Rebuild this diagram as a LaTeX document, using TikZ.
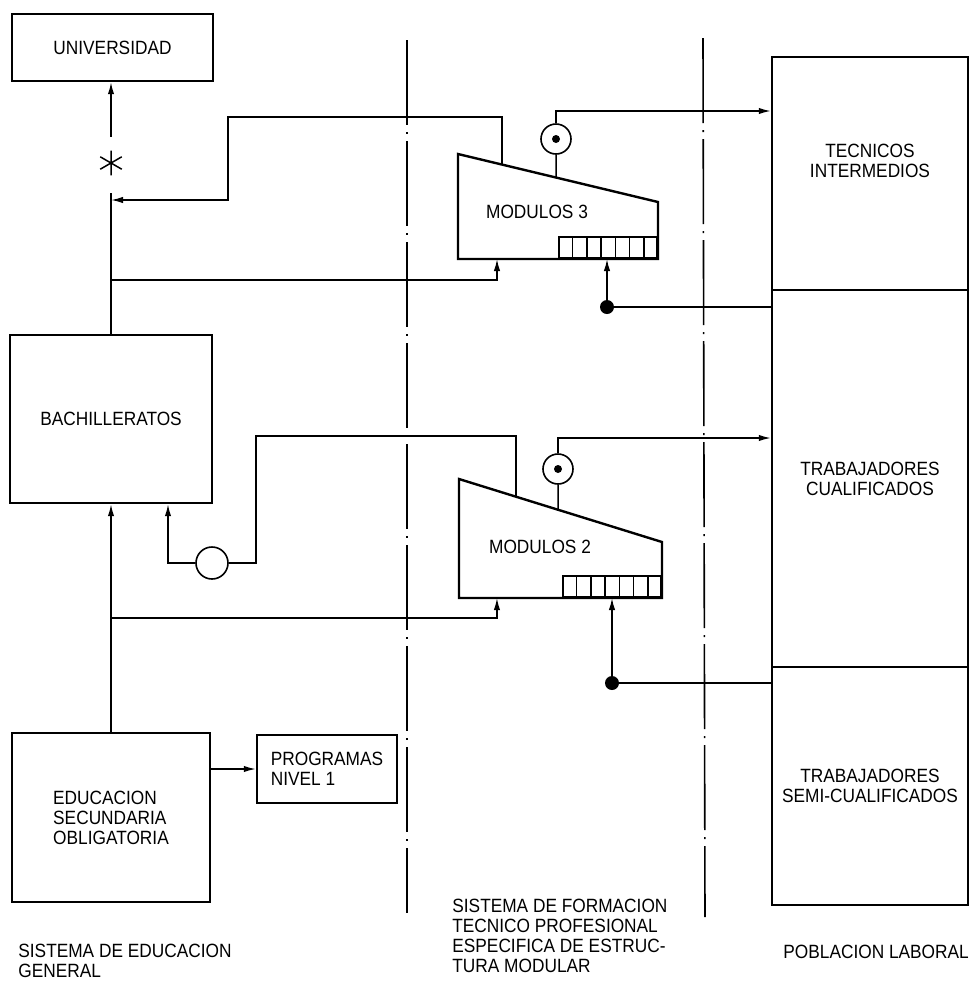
\documentclass[tikz,border=0pt]{standalone}
\usepackage{fontspec}
\setmainfont{Liberation Sans}[FakeStretch=0.9]
\usetikzlibrary{arrows.meta,calc}

\begin{document}
\begin{tikzpicture}[x=0.5pt, y=-0.5pt, every node/.style={font=\fontsize{9.6}{10}\selectfont},
  box/.style={draw, line width=1.2pt, inner sep=2pt, align=center},
  wire/.style={line width=0.75pt},
  arr/.style={wire, -{Latex[length=6pt,width=3.2pt]}},
  sep/.style={line width=0.8pt, dash pattern=on 42.5pt off 3.5pt on 1pt off 3.5pt},
  trap/.style={line width=1.2pt},
  strip/.style={draw, line width=0.8pt, minimum width=49pt, minimum height=10.5pt, inner sep=0pt, anchor=south east},
  ring/.style={draw, circle, line width=0.8pt, minimum size=15pt, inner sep=0pt},
  blob/.style={fill, circle, minimum size=7pt, inner sep=0pt},
  caption/.style={anchor=west, align=left, inner sep=0pt}]
\useasboundingbox (0,0) rectangle (971,982);
\draw[sep] (407,40) -- (407,913); \draw[sep] (703,38) -- (705,917);
\node[box, minimum width=100.5pt, minimum height=33.5pt] (uni) at (112.5,47.5) {UNIVERSIDAD};
\node[box, minimum width=101pt, minimum height=84pt] (bach) at (111,419) {BACHILLERATOS};
\node[box, minimum width=99pt, minimum height=84.5pt, align=left] (eso) at (111,817.5) {EDUCACION\\SECUNDARIA\\OBLIGATORIA};
\node[box, minimum width=70pt, minimum height=34pt, align=left] (prog) at (327,769) {PROGRAMAS\\NIVEL 1};
\node[box, minimum width=98pt, minimum height=116.5pt, label={[yshift=6.5pt, align=center]center:{TECNICOS\\INTERMEDIOS}}] (tec) at (870,173.5) {};
\node[box, minimum width=98pt, minimum height=188.5pt] (cual) at (870,478.5) {TRABAJADORES\\CUALIFICADOS};
\node[box, minimum width=98pt, minimum height=119pt] (semi) at (870,786) {TRABAJADORES\\SEMI-CUALIFICADOS};
\coordinate (m3a) at (458,154); \coordinate (m3b) at (658,202); \coordinate (m3c) at (658,259); \coordinate (m3d) at (458,259);
\draw[trap] (m3a) -- (m3b) -- (m3c) -- (m3d) -- cycle;
\node[strip] (s3) at (m3c) {};
\foreach \i in {1,...,6} \draw[wire] ($(s3.north west)!\i/7!(s3.north east)$) -- ($(s3.south west)!\i/7!(s3.south east)$);
\node (m3lab) at (537,212) {MODULOS 3};
\coordinate (m2a) at (459,479); \coordinate (m2b) at (662,542); \coordinate (m2c) at (662,598); \coordinate (m2d) at (459,598);
\draw[trap] (m2a) -- (m2b) -- (m2c) -- (m2d) -- cycle;
\node[strip] (s2) at (m2c) {};
\foreach \i in {1,...,6} \draw[wire] ($(s2.north west)!\i/7!(s2.north east)$) -- ($(s2.south west)!\i/7!(s2.south east)$);
\node (m2lab) at (540,547) {MODULOS 2};
\node[ring] (o3) at (556,139) {}; \node[blob, minimum size=4pt] (o3c) at (o3) {};
\node[ring] (o2) at (558,469) {}; \node[blob, minimum size=4pt] (o2c) at (o2) {};
\node[ring, minimum size=16pt] (o1) at (212,563) {};
\node[blob] (f3) at (607,307) {}; \node[blob] (f2) at (612,683) {};
\node[circle, minimum size=12pt, inner sep=0pt] (ast) at (111,163) {};
\draw[wire] (ast.90) -- (ast.270) (ast.30) -- (ast.210) (ast.150) -- (ast.330);
\draw[arr, shorten <=7pt] (ast.north) -- (ast.north |- uni.south);
\draw[wire, shorten <=9pt] (ast.south) -- (ast.south |- bach.north);
\coordinate (m3fb) at ($(m3a)!0.22!(m3b)$); \coordinate (m3ci) at ($(m3a)!0.49!(m3b)$); \coordinate (m3in) at ($(m3d)!0.195!(m3c)$);
\coordinate (m2fb) at ($(m2a)!0.28!(m2b)$); \coordinate (m2ci) at ($(m2a)!0.488!(m2b)$); \coordinate (m2in) at ($(m2d)!0.187!(m2c)$);
\coordinate (j3) at (111,200); \coordinate (k3) at (111,280); \coordinate (k2) at (111,618);
\draw[arr] (m3fb) |- (228,117) |- (j3);
\draw[arr] (k3) -| (m3in);
\draw[wire] (o3) -- (m3ci);
\draw[arr] (o3) |- (tec.west |- 0,111);
\draw[arr] (f3) -- (f3 |- s3.south);
\draw[wire] (f3) -- (f3 -| cual.west);
\draw[wire] (m2fb) |- (256,436) |- (o1);
\draw[arr] (o1) -| (bach.south -| 168,0);
\draw[arr] (k2) -| (m2in);
\draw[wire] (o2) -- (m2ci);
\draw[arr] (o2) |- (cual.west |- 0,438);
\draw[arr] (f2) -- (f2 |- s2.south);
\draw[wire] (f2) -- (f2 -| semi.west);
\draw[arr] (eso) -- (bach);
\draw[arr] (eso.east |- prog.west) -- (prog.west);
\node[caption] (lgen) at (18,961) {SISTEMA DE EDUCACION\\GENERAL};
\node[caption] (lfor) at (452,936) {SISTEMA DE FORMACION\\TECNICO PROFESIONAL\\ESPECIFICA DE ESTRUC-\\TURA MODULAR};
\node[caption] (lpob) at (783,952) {POBLACION LABORAL};
\end{tikzpicture}
\end{document}
